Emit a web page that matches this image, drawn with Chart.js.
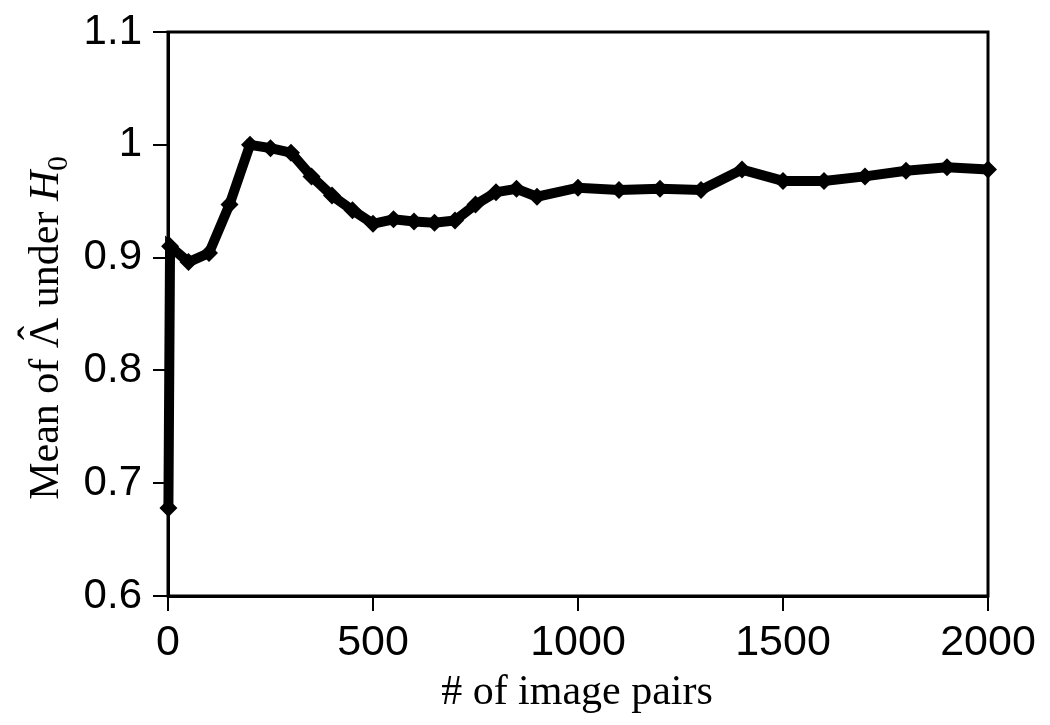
<!DOCTYPE html>
<html>
<head>
<meta charset="utf-8">
<script src="https://cdn.jsdelivr.net/npm/chart.js@4/dist/chart.umd.min.js"></script>
<style>
html,body{margin:0;padding:0;background:#fff;}
#wrap{width:1050px;height:725px;position:relative;}
</style>
</head>
<body>
<div id="wrap"><canvas id="c" width="1050" height="725"></canvas></div>
<script>
// Data
const pairCounts = [1, 5, 50, 100, 150, 200, 250, 300, 350, 400, 450, 500, 550, 600, 650, 700, 750, 800, 850, 900, 1000, 1100, 1200, 1300, 1400, 1500, 1600, 1700, 1800, 1900, 2000];
const meanLambda = [0.678, 0.910, 0.896, 0.904, 0.947, 1.000, 0.997, 0.993, 0.972, 0.955, 0.942, 0.930, 0.934, 0.932, 0.931, 0.933, 0.947, 0.958, 0.961, 0.954, 0.962, 0.960, 0.961, 0.960, 0.978, 0.968, 0.968, 0.972, 0.977, 0.980, 0.978];
const xTickValues = [0, 500, 1000, 1500, 2000];
const xTickLabels = ['0', '500', '1000', '1500', '2000'];
const yTickValues = [0.6, 0.7, 0.8, 0.9, 1.0, 1.1];
const yTickLabels = ['0.6', '0.7', '0.8', '0.9', '1', '1.1'];
const xTitle = '# of image pairs';
const yTitleParts = [
  {t: 'Mean of ', style: ''},
  {t: 'Λ', style: '', hat: true},
  {t: ' under ', style: ''},
  {t: 'H', style: 'italic '},
  {t: '0', style: '', sub: true}
];

const points = pairCounts.map((x, i) => ({x: x, y: meanLambda[i]}));

const SERIF = '"Liberation Serif", "Times New Roman", serif';

const frameAndTitles = {
  id: 'frameAndTitles',
  afterDraw(chart) {
    const {ctx, chartArea: a} = chart;
    ctx.save();
    ctx.strokeStyle = '#000';
    ctx.lineWidth = 3;
    ctx.strokeRect(a.left, a.top, a.right - a.left, a.bottom - a.top);
    // x title
    ctx.fillStyle = '#000';
    ctx.font = '42px ' + SERIF;
    ctx.textAlign = 'center';
    ctx.textBaseline = 'alphabetic';
    ctx.fillText(xTitle, 577, 704);
    // y title (rotated, mixed styles)
    ctx.translate(58, 328);
    ctx.rotate(-Math.PI / 2);
    const fontFor = p => p.style + (p.sub ? '29px ' : '42px ') + SERIF;
    let total = 0;
    const widths = yTitleParts.map(p => {
      ctx.font = fontFor(p);
      const w = ctx.measureText(p.t).width;
      total += w;
      return w;
    });
    let x = -total / 2;
    yTitleParts.forEach((p, i) => {
      ctx.font = fontFor(p);
      ctx.textAlign = 'left';
      ctx.fillText(p.t, x, p.sub ? 9 : 0);
      if (p.hat) {
        ctx.textAlign = 'center';
        ctx.fillText('\u02C6', x + widths[i] / 2, -11);
      }
      x += widths[i];
    });
    ctx.restore();
  }
};

new Chart(document.getElementById('c'), {
  type: 'line',
  data: {
    datasets: [{
      data: points,
      borderColor: '#000',
      backgroundColor: '#000',
      borderWidth: 10,
      pointStyle: 'rectRot',
      pointRadius: 9,
      pointBorderWidth: 0,
      pointBackgroundColor: '#000',
      tension: 0,
      clip: false
    }]
  },
  options: {
    responsive: false,
    animation: false,
    events: [],
    layout: {padding: {top: 32, right: 62, left: 0, bottom: 0}},
    plugins: {legend: {display: false}, tooltip: {enabled: false}},
    scales: {
      x: {
        type: 'linear',
        min: 0, max: 2000,
        afterBuildTicks(s) { s.ticks = xTickValues.map(v => ({value: v})); },
        afterFit(s) { s.height = 129; },
        ticks: {
          color: '#000',
          font: {family: '"Liberation Sans", Arial, sans-serif', size: 43},
          padding: 6,
          maxRotation: 0,
          callback: (v) => xTickLabels[xTickValues.indexOf(v)]
        },
        grid: {drawOnChartArea: false, color: '#000', lineWidth: 2, tickLength: 15},
        border: {color: '#000', width: 3}
      },
      y: {
        type: 'linear',
        min: 0.6, max: 1.1,
        afterBuildTicks(s) { s.ticks = yTickValues.map(v => ({value: v})); },
        afterFit(s) { s.width = 168; s.paddingTop = 0; s.paddingBottom = 0; },
        ticks: {
          color: '#000',
          font: {family: '"Liberation Sans", Arial, sans-serif', size: 42, lineHeight: 1},
          padding: 11,
          callback: (v) => {
            const i = yTickValues.findIndex(t => Math.abs(t - v) < 1e-9);
            return i >= 0 ? yTickLabels[i] : '';
          }
        },
        grid: {drawOnChartArea: false, color: '#000', lineWidth: 2, tickLength: 15},
        border: {color: '#000', width: 3}
      }
    }
  },
  plugins: [frameAndTitles]
});
</script>
</body>
</html>
